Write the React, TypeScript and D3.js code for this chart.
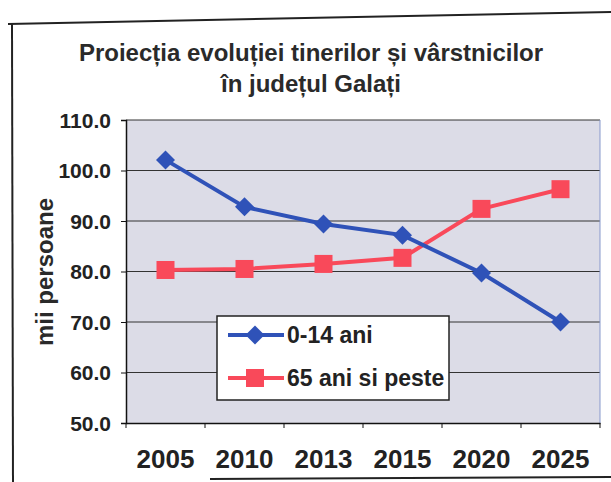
import React, { useRef, useEffect } from 'react';
import * as d3 from 'd3';

const years = ['2005', '2010', '2013', '2015', '2020', '2025'];
const young = [102.1, 92.8, 89.4, 87.2, 79.7, 70.0];
const old = [80.3, 80.5, 81.5, 82.7, 92.4, 96.3];
const yTicks = [50, 60, 70, 80, 90, 100, 110];

const App = () => {
  const ref = useRef<SVGSVGElement | null>(null);

  useEffect(() => {
    const svg = d3.select(ref.current);
    svg.selectAll('*').remove();
    const font = 'Arial, "Liberation Sans", sans-serif';

    // outer frame
    svg.append('rect').attr('width', 611).attr('height', 482).attr('fill', 'white');
    svg.append('line').attr('x1', 8).attr('y1', 24).attr('x2', 611).attr('y2', 12)
      .attr('stroke', '#222').attr('stroke-width', 2);
    svg.append('line').attr('x1', 12).attr('y1', 24).attr('x2', 13).attr('y2', 482)
      .attr('stroke', '#222').attr('stroke-width', 2);
    svg.append('line').attr('x1', 210).attr('y1', 479).attr('x2', 611).attr('y2', 477)
      .attr('stroke', '#222').attr('stroke-width', 2);

    const left = 126, right = 600, top = 120, bottom = 423;
    const x = d3.scaleBand().domain(years).range([left, right]);
    const y = d3.scaleLinear().domain([50, 110]).range([bottom, top]);

    svg.append('rect').attr('x', left).attr('y', top)
      .attr('width', right - left).attr('height', bottom - top).attr('fill', '#dcdce7');

    svg.selectAll('.grid').data(yTicks.slice(1)).enter().append('line')
      .attr('x1', left).attr('x2', right)
      .attr('y1', d => y(d)).attr('y2', d => y(d))
      .attr('stroke', '#333').attr('stroke-width', 1);

    svg.append('line').attr('x1', right).attr('x2', right).attr('y1', top).attr('y2', bottom)
      .attr('stroke', '#8899cc').attr('stroke-width', 1);

    // axes
    svg.append('g').attr('transform', `translate(${left},0)`)
      .call(d3.axisLeft(y).tickValues(yTicks).tickSize(5).tickFormat(d => d3.format('.1f')(d as number)))
      .call(g => g.select('.domain').attr('stroke', '#111').attr('stroke-width', 1.5))
      .call(g => g.selectAll('.tick line').attr('stroke', '#111'))
      .call(g => g.selectAll('text').attr('font-family', font).attr('font-weight', 'bold')
        .attr('font-size', 21).attr('fill', '#222').attr('x', -15).attr('dy', '0.35em'));

    const xa = svg.append('g').attr('transform', `translate(0,${bottom})`)
      .call(d3.axisBottom(x).tickSize(0).tickPadding(27))
      .call(g => g.select('.domain').attr('stroke', '#111').attr('stroke-width', 1.5))
      .call(g => g.selectAll('text').attr('font-family', font).attr('font-weight', 'bold')
        .attr('font-size', 26).attr('fill', '#222'));
    const edges = years.map(d => x(d) as number).concat([right]);
    xa.selectAll('.edge').data(edges).enter().append('line')
      .attr('x1', d => d).attr('x2', d => d).attr('y1', 0).attr('y2', 5)
      .attr('stroke', '#111');

    // title
    const title = svg.append('text').attr('text-anchor', 'middle')
      .attr('font-family', font).attr('font-weight', 'bold').attr('font-size', 24).attr('fill', '#2a2a2a');
    title.append('tspan').attr('x', 311).attr('y', 61).text('Proiecția evoluției tinerilor și vârstnicilor');
    title.append('tspan').attr('x', 311).attr('y', 92).text('în județul Galați');

    svg.append('text').attr('transform', 'translate(53,272) rotate(-90)')
      .attr('text-anchor', 'middle').attr('font-family', font).attr('font-weight', 'bold')
      .attr('font-size', 24).attr('fill', '#2a2a2a').text('mii persoane');

    const cx = (d: string) => (x(d) as number) + x.bandwidth() / 2;
    const blue = '#2f52b8', red = '#f9495a';

    const line = d3.line<number>().x((_, i) => cx(years[i])).y(d => y(d));

    svg.append('path').datum(old).attr('d', line).attr('fill', 'none')
      .attr('stroke', red).attr('stroke-width', 4);
    svg.selectAll('.sq').data(old).enter().append('rect')
      .attr('x', (_, i) => cx(years[i]) - 9).attr('y', d => y(d) - 9)
      .attr('width', 18).attr('height', 18).attr('fill', red);

    svg.append('path').datum(young).attr('d', line).attr('fill', 'none')
      .attr('stroke', blue).attr('stroke-width', 4);
    const diamond = d3.symbol().type(d3.symbolDiamond2).size(230);
    svg.selectAll('.dm').data(young).enter().append('path')
      .attr('d', diamond)
      .attr('transform', (d, i) => `translate(${cx(years[i])},${y(d)})`)
      .attr('fill', blue);

    // legend
    const lg = svg.append('g').attr('transform', 'translate(217,316)');
    lg.append('rect').attr('width', 232).attr('height', 84).attr('fill', 'white')
      .attr('stroke', '#222').attr('stroke-width', 1.5);
    const items = [
      { label: '0-14 ani', color: blue, kind: 'd' },
      { label: '65 ani si peste', color: red, kind: 's' }
    ];
    items.forEach((it, i) => {
      const yy = 19 + i * 43;
      lg.append('line').attr('x1', 11).attr('x2', 67).attr('y1', yy).attr('y2', yy)
        .attr('stroke', it.color).attr('stroke-width', 4);
      if (it.kind === 'd') {
        lg.append('path').attr('d', diamond).attr('transform', `translate(38,${yy})`).attr('fill', it.color);
      } else {
        lg.append('rect').attr('x', 29).attr('y', yy - 9).attr('width', 18).attr('height', 18).attr('fill', it.color);
      }
      lg.append('text').attr('x', 70).attr('y', yy).attr('dy', '0.35em')
        .attr('font-family', font).attr('font-weight', 'bold').attr('font-size', 23)
        .attr('fill', '#222').text(it.label);
    });
  }, []);

  return (
    <svg ref={ref} width={611} height={482}
      style={{ position: 'absolute', left: 0, top: 0, display: 'block' }} />
  );
};

export default App;
